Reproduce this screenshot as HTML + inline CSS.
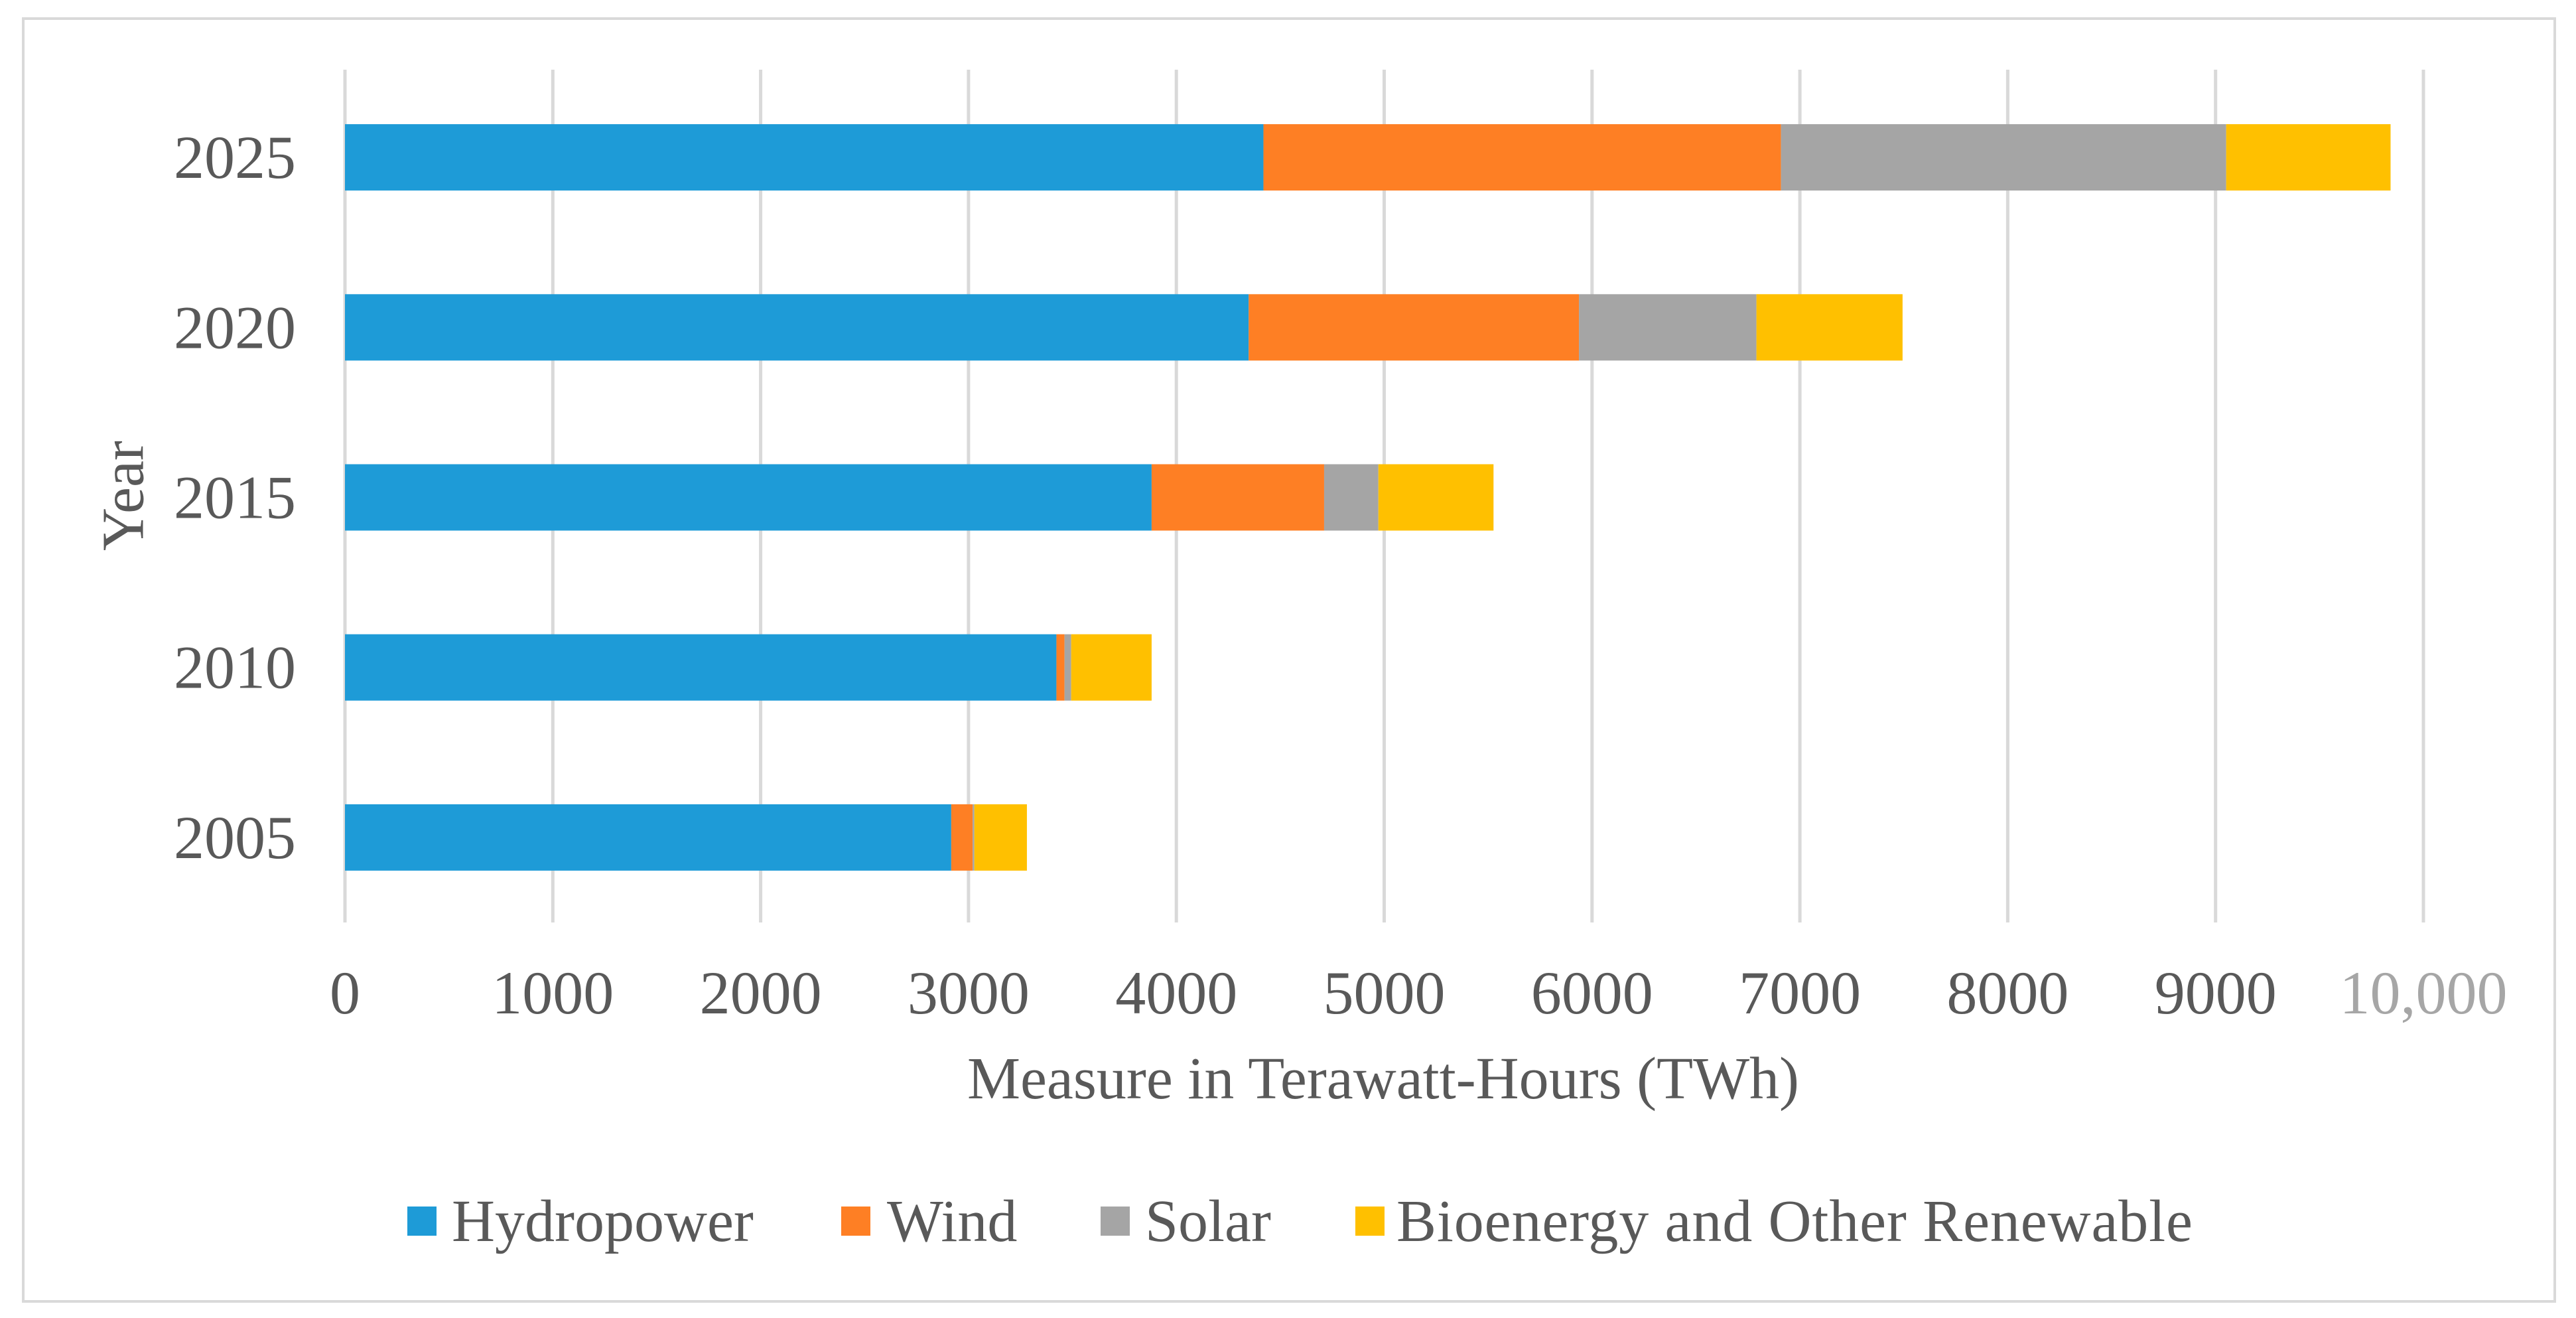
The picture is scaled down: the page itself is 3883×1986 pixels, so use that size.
<!DOCTYPE html>
<html><head><meta charset="utf-8"><style>
html,body{margin:0;padding:0;background:#fff;}
svg{display:block;font-family:"Liberation Serif",serif;}
</style></head><body>
<svg id="chart" width="3883" height="1986" viewBox="0 0 3883 1986">
<rect x="35" y="28" width="3816" height="1933" fill="#fff" stroke="#d9d9d9" stroke-width="4"/>
<g id="grid"></g>
<g id="bars"></g>
<g id="xticks"></g>
<g id="yticks"></g>
<text x="186" y="747" transform="rotate(-90 186 747)" text-anchor="middle" dominant-baseline="central" font-size="90" fill="#595959">Year</text>
<text x="2085" y="1655" text-anchor="middle" font-size="90" fill="#595959">Measure in Terawatt-Hours (TWh)</text>
<g>
<g><rect x="614" y="1818" width="44" height="44" fill="#1e9bd7"/><text x="681" y="1870" font-size="90" fill="#595959">Hydropower</text></g>
<g><rect x="1268" y="1818" width="44" height="44" fill="#fe7f24"/><text x="1337" y="1870" font-size="90" fill="#595959">Wind</text></g>
<g><rect x="1659" y="1818" width="44" height="44" fill="#a5a5a5"/><text x="1726" y="1870" font-size="90" fill="#595959">Solar</text></g>
<g><rect x="2043" y="1818" width="44" height="44" fill="#ffc000"/><text x="2105" y="1870" font-size="90" fill="#595959" textLength="1200">Bioenergy and Other Renewable</text></g>
</g>
</svg>
<script>
const years = ["2005","2010","2015","2020","2025"];
const hydro = [2917,3423,3881,4348,4419];
const wind = [103,39,830,1589,2490];
const solar = [8,32,261,854,2142];
const bio = [253,387,554,703,791];
const xTicks = [0,1000,2000,3000,4000,5000,6000,7000,8000,9000,10000];
const xTickLabels = ["0","1000","2000","3000","4000","5000","6000","7000","8000","9000","10,000"];

const NS="http://www.w3.org/2000/svg";
const x0=520, x1=3653, plotTop=109, plotBottom=1390;
const xMax=10000;
function xs(v){return x0+(v/xMax)*(x1-x0);}
const band=(plotBottom-plotTop)/years.length;
function yc(i){return plotBottom-band*(i+0.5);}
function mk(tag,attrs,parent){const e=document.createElementNS(NS,tag);for(const k in attrs)e.setAttribute(k,attrs[k]);parent.appendChild(e);return e;}

const grid=document.getElementById('grid');
const xt=document.getElementById('xticks');
xTicks.forEach((t,i)=>{
  const l=mk('line',{x1:xs(t),x2:xs(t),y1:plotTop-4,y2:plotBottom,stroke:'#d9d9d9','stroke-width':5},grid);
  
  
  const tx=mk('text',{x:xs(t),y:1527,'text-anchor':'middle','font-size':92,fill:i===xTicks.length-1?'#a6a6a6':'#595959'},xt);
  tx.textContent=xTickLabels[i];
  
  
});
const yt=document.getElementById('yticks');
const barsG=document.getElementById('bars');
const series=[["hydropower",hydro,"#1e9bd7"],["wind",wind,"#fe7f24"],["solar",solar,"#a5a5a5"],["bioenergy",bio,"#ffc000"]];
const bh=100;
years.forEach((y,i)=>{
  const t=mk('text',{x:446,y:yc(i)+31,'text-anchor':'end','font-size':92,fill:'#595959'},yt);
  t.textContent=y;
  
  
  let acc=0;
  series.forEach(s=>{
    const v=s[1][i];
    const r=mk('rect',{x:xs(acc),y:yc(i)-bh/2,width:Math.max(0,xs(acc+v)-xs(acc)),height:bh,fill:s[2]},barsG);
    
    
    acc+=v;
  });
});
</script>
</body></html>
